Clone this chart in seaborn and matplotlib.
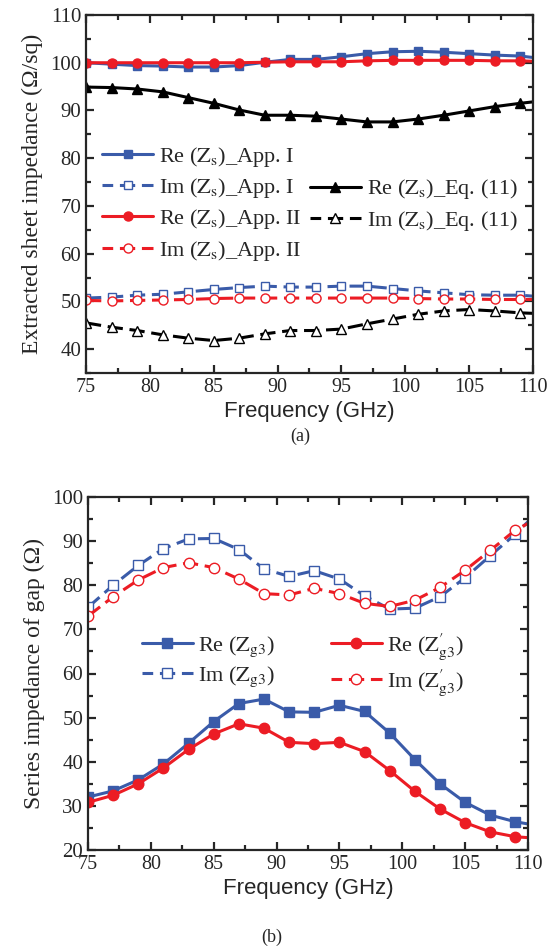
import numpy as np
import pandas as pd
import matplotlib
matplotlib.use("Agg")
import matplotlib.pyplot as plt
import seaborn as sns
from matplotlib.ticker import MultipleLocator
from matplotlib.lines import Line2D

sns.set_style("ticks")
plt.rcParams['font.family'] = ['Liberation Serif', 'DejaVu Serif']
plt.rcParams['mathtext.fontset'] = 'stix'

# ---------------- data ----------------
freq = [75, 77, 79, 81, 83, 85, 87, 89, 91, 93, 95, 97, 99, 101, 103, 105, 107, 109, 110]

# panel (a)
re_app1 = [100.0, 99.7, 99.4, 99.3, 99.1, 99.1, 99.4, 100.1, 100.7, 100.7, 101.25, 101.9, 102.3, 102.4, 102.2, 101.9, 101.6, 101.4, 101.1]
im_app1 = [50.7, 50.9, 51.3, 51.5, 52.0, 52.5, 52.9, 53.2, 53.0, 53.0, 53.2, 53.2, 52.7, 52.2, 51.8, 51.4, 51.3, 51.3, 51.1]
re_app2 = [100.0, 100.0, 100.0, 100.0, 100.0, 100.0, 100.0, 100.1, 100.2, 100.2, 100.2, 100.4, 100.5, 100.5, 100.5, 100.5, 100.4, 100.4, 100.3]
im_app2 = [50.2, 50.1, 50.2, 50.3, 50.4, 50.6, 50.7, 50.7, 50.7, 50.7, 50.7, 50.7, 50.7, 50.6, 50.5, 50.5, 50.4, 50.4, 50.4]
re_eq11 = [94.9, 94.8, 94.5, 93.9, 92.7, 91.5, 90.1, 89.0, 89.0, 88.8, 88.2, 87.6, 87.6, 88.2, 89.0, 89.9, 90.8, 91.5, 91.8]
im_eq11 = [45.5, 44.6, 43.9, 43.0, 42.3, 41.8, 42.3, 43.2, 43.9, 43.9, 44.2, 45.3, 46.3, 47.3, 48.0, 48.3, 48.0, 47.6, 47.5]

# panel (b)
re_zg3 = [32.0, 33.4, 35.9, 39.5, 44.2, 49.1, 53.2, 54.2, 51.3, 51.2, 52.8, 51.4, 46.5, 40.5, 35.0, 30.8, 27.9, 26.4, 25.9]
im_zg3 = [75.0, 80.0, 84.5, 88.3, 90.5, 90.6, 88.1, 83.7, 82.0, 83.3, 81.4, 77.6, 74.6, 74.8, 77.4, 81.7, 86.7, 91.6, 94.4]
re_zg3p = [30.8, 32.4, 35.0, 38.6, 42.8, 46.3, 48.6, 47.6, 44.4, 44.1, 44.4, 42.3, 38.0, 33.3, 29.3, 26.2, 24.1, 23.0, 22.8]
im_zg3p = [73.0, 77.4, 81.2, 84.0, 85.1, 84.0, 81.4, 78.1, 77.8, 79.3, 78.1, 75.9, 75.2, 76.6, 79.5, 83.4, 87.9, 92.5, 94.0]

labels_a = [r"Re ($\mathrm{Z_s}$)_App. I", r"Im ($\mathrm{Z_s}$)_App. I",
            r"Re ($\mathrm{Z_s}$)_App. II", r"Im ($\mathrm{Z_s}$)_App. II",
            r"Re ($\mathrm{Z_s}$)_Eq. (11)", r"Im ($\mathrm{Z_s}$)_Eq. (11)"]
labels_b = [r"Re ($\mathrm{Z_{g3}}$)", r"Im ($\mathrm{Z_{g3}}$)",
            r"Re ($\mathrm{Z}^{\prime}_{\mathrm{g3}}$)", r"Im ($\mathrm{Z}^{\prime}_{\mathrm{g3}}$)"]

BLUE = '#3A5BA9'
RED = '#EC1C24'
BLACK = '#000000'

W, H = 559, 948
fig = plt.figure(figsize=(W / 100, H / 100), dpi=100)
ax1 = fig.add_axes([86 / W, 1 - 373 / H, (533 - 86) / W, (373 - 15) / H])
ax2 = fig.add_axes([88 / W, 1 - 850 / H, (528 - 88) / W, (850 - 497) / H])

mk_every = slice(0, len(freq) - 1)
DASH = (5, 2.2)


def draw(ax, y, color, marker, filled, dashed, label, ms):
    df = pd.DataFrame({'f': freq, 'v': y})
    kw = dict(color=color, lw=2.2, marker=marker, markersize=ms,
              markeredgecolor=color, markeredgewidth=1.0,
              markerfacecolor=color if filled else 'white',
              markevery=mk_every, label=label)
    if dashed:
        kw['dashes'] = DASH
    sns.lineplot(data=df, x='f', y='v', ax=ax, legend=False, **kw)
    h = Line2D([], [], color=color, lw=2.2, marker=marker, markersize=ms,
               markeredgecolor=color, markeredgewidth=1.0,
               markerfacecolor=color if filled else 'white',
               linestyle=(1.5, DASH) if dashed else '-')
    return h


h = []
h.append(draw(ax1, re_app1, BLUE, 's', True, False, labels_a[0], 6))
h.append(draw(ax1, im_app1, BLUE, 's', False, True, labels_a[1], 6))
h.append(draw(ax1, re_app2, RED, 'o', True, False, labels_a[2], 6.5))
h.append(draw(ax1, im_app2, RED, 'o', False, True, labels_a[3], 6.5))
h.append(draw(ax1, re_eq11, BLACK, '^', True, False, labels_a[4], 7.5))
h.append(draw(ax1, im_eq11, BLACK, '^', False, True, labels_a[5], 7.5))

hb = []
hb.append(draw(ax2, re_zg3, BLUE, 's', True, False, labels_b[0], 7))
hb.append(draw(ax2, im_zg3, BLUE, 's', False, True, labels_b[1], 7))
hb.append(draw(ax2, re_zg3p, RED, 'o', True, False, labels_b[2], 7.5))
hb.append(draw(ax2, im_zg3p, RED, 'o', False, True, labels_b[3], 7.5))

for ax, ylo, yhi, ylab in [(ax1, 35, 110, "Extracted sheet impedance (Ω/sq)"),
                           (ax2, 20, 100, "Series impedance of gap (Ω)")]:
    ax.set_xlim(75, 110)
    ax.set_ylim(ylo, yhi)
    ax.xaxis.set_major_locator(MultipleLocator(5))
    ax.xaxis.set_minor_locator(MultipleLocator(2.5))
    ax.yaxis.set_major_locator(MultipleLocator(10))
    ax.yaxis.set_minor_locator(MultipleLocator(5))
    ax.tick_params(which='both', direction='in', top=True, right=True, width=1.6)
    ax.tick_params(axis='x', labelsize=14.5)
    ax.tick_params(axis='y', labelsize=15)
    ax.tick_params(which='major', length=6)
    ax.tick_params(which='minor', length=3.5)
    for s in ax.spines.values():
        s.set_linewidth(1.6)
        s.set_visible(True)
    ax.set_xlabel("Frequency (GHz)", family=['Liberation Sans', 'DejaVu Sans'], fontsize=16, labelpad=3)
    ax.set_ylabel(ylab, fontsize=17, labelpad=5)

ax1.set_yticks([40, 50, 60, 70, 80, 90, 100, 110])

LEGKW = dict(frameon=False, fontsize=16, handlelength=2.3, handletextpad=0.25,
             borderaxespad=0.0, borderpad=0.4)
leg1 = ax1.legend(handles=h[:4], labels=labels_a[:4], loc='upper left',
                  bbox_to_anchor=(0.016, 0.663), labelspacing=0.33, **LEGKW)
ax1.add_artist(leg1)
ax1.legend(handles=h[4:], labels=labels_a[4:], loc='upper left',
           bbox_to_anchor=(0.481, 0.571), labelspacing=0.33, **LEGKW)

ax2.legend(handles=hb, labels=labels_b, loc='upper left', ncol=2,
           bbox_to_anchor=(0.102, 0.645), labelspacing=0.25, columnspacing=2.5, **LEGKW)

fig.text(300 / W, 1 - 436 / H, "(a)", ha='center', va='center', fontsize=13)
fig.text(272 / W, 1 - 937 / H, "(b)", ha='center', va='center', fontsize=13)

fig.savefig("out.png", dpi=100)
